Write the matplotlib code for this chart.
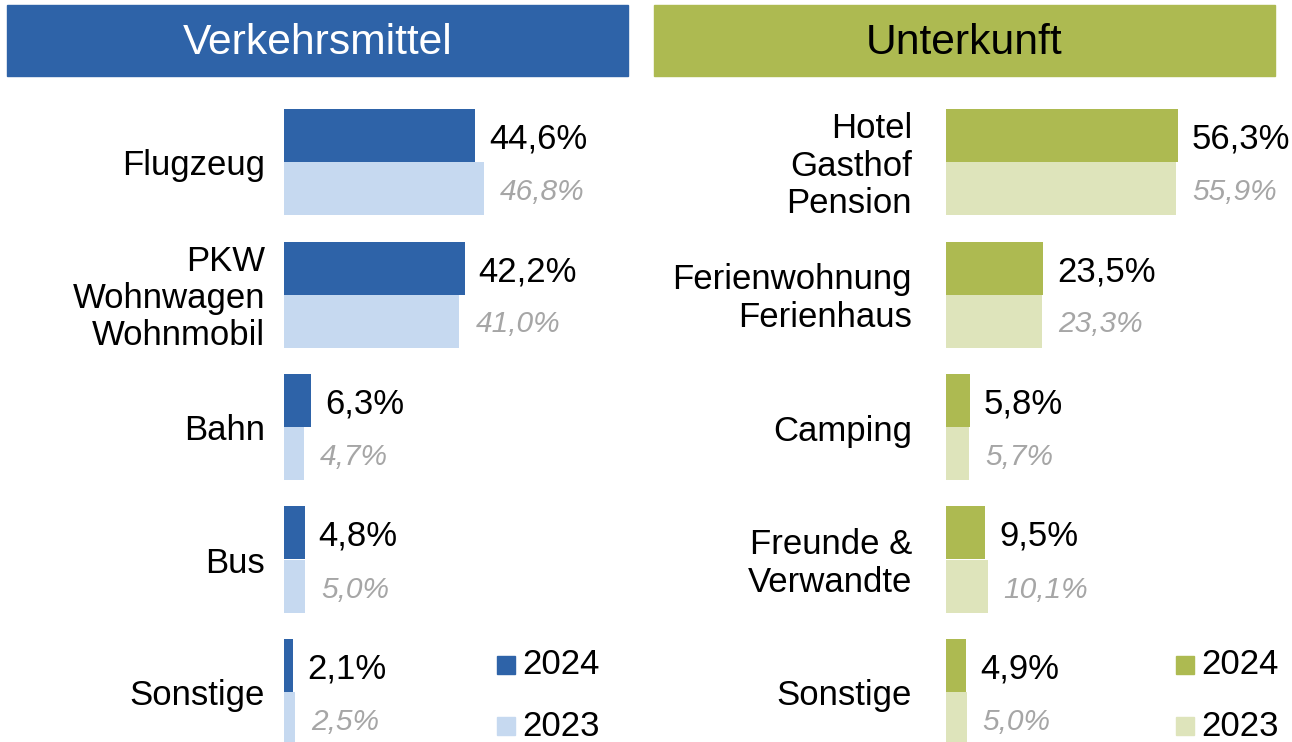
import matplotlib
matplotlib.use("Agg")
import matplotlib.pyplot as plt
from matplotlib.patches import Rectangle

plt.rcParams['font.family'] = ['Liberation Sans', 'DejaVu Sans']

# ---- data ----
left_title = "Verkehrsmittel"
left_cats = ["Flugzeug", "PKW\nWohnwagen\nWohnmobil", "Bahn", "Bus", "Sonstige"]
left_2024 = [44.6, 42.2, 6.3, 4.8, 2.1]
left_2023 = [46.8, 41.0, 4.7, 5.0, 2.5]

right_title = "Unterkunft"
right_cats = ["Hotel\nGasthof\nPension", "Ferienwohnung\nFerienhaus", "Camping",
              "Freunde &\nVerwandte", "Sonstige"]
right_2024 = [56.3, 23.5, 5.8, 9.5, 4.9]
right_2023 = [55.9, 23.3, 5.7, 10.1, 5.0]

years = ["2024", "2023"]

# ---- style ----
BLUE_D, BLUE_L = "#2E63A8", "#C6D9F0"
GREEN_D, GREEN_L = "#ADBA51", "#DEE4BB"
GRAY = "#A6A6A6"

W, H = 1292, 742
fig = plt.figure(figsize=(W / 100, H / 100), dpi=100)


def fx(px):
    return px / W


def fy(py):
    return 1 - py / H


def header(x0, x1, y0, y1, color, text, tcolor):
    fig.patches.append(Rectangle((fx(x0), fy(y1)), fx(x1 - x0), (y1 - y0) / H,
                                 transform=fig.transFigure, color=color, zorder=0))
    fig.text(fx((x0 + x1) / 2), fy((y0 + y1) / 2 + 2), text, ha="center", va="center",
             fontsize=30.7, color=tcolor)


header(7, 628, 5, 76, BLUE_D, left_title, "white")
header(654, 1275, 5, 76, GREEN_D, right_title, "black")

top_px, period = 109, 132.5
ylim_bottom = (H - top_px) / period - 0.4
dy = 3.5 / period


def panel(x0_px, px_per_pct, label_x_px, cats, v24, v23, c_dark, c_light, leg_x):
    width_px = 420
    ax = fig.add_axes([fx(x0_px), 0, fx(width_px), fy(top_px)])
    ax.set_xlim(0, width_px / px_per_pct)
    ax.set_ylim(ylim_bottom, -0.4)
    ax.axis("off")
    idx = range(len(cats))
    ax.barh([i - 0.2 for i in idx], v24, height=0.4, color=c_dark)
    ax.barh([i + 0.2 for i in idx], v23, height=0.4, color=c_light)
    off = 14 / px_per_pct
    for i in idx:
        ax.text(v24[i] + off, i - 0.2 + dy, f"{v24[i]:.1f}%".replace(".", ","),
                va="center", ha="left", fontsize=25, color="black")
        ax.text(v23[i] + off + 2 / px_per_pct, i + 0.2 + dy, f"{v23[i]:.1f}%".replace(".", ","),
                va="center", ha="left", fontsize=21.5, color=GRAY, style="italic")
        ypx = top_px + period * (i + 0.4) + 4
        fig.text(fx(label_x_px), fy(ypx), cats[i], ha="right", va="center",
                 fontsize=25, linespacing=1.16)
    # legend
    for k, (yr, c) in enumerate(zip(years, [c_dark, c_light])):
        yc = 665 + 61 * k
        fig.patches.append(Rectangle((fx(leg_x), fy(yc + 9)), fx(18), 18 / H,
                                     transform=fig.transFigure, color=c))
        fig.text(fx(leg_x + 25), fy(yc), yr, ha="left", va="center", fontsize=25)


panel(284, 4.28, 265, left_cats, left_2024, left_2023, BLUE_D, BLUE_L, 497)
panel(946, 4.12, 912, right_cats, right_2024, right_2023, GREEN_D, GREEN_L, 1176)

fig.savefig("out.png", dpi=100)
